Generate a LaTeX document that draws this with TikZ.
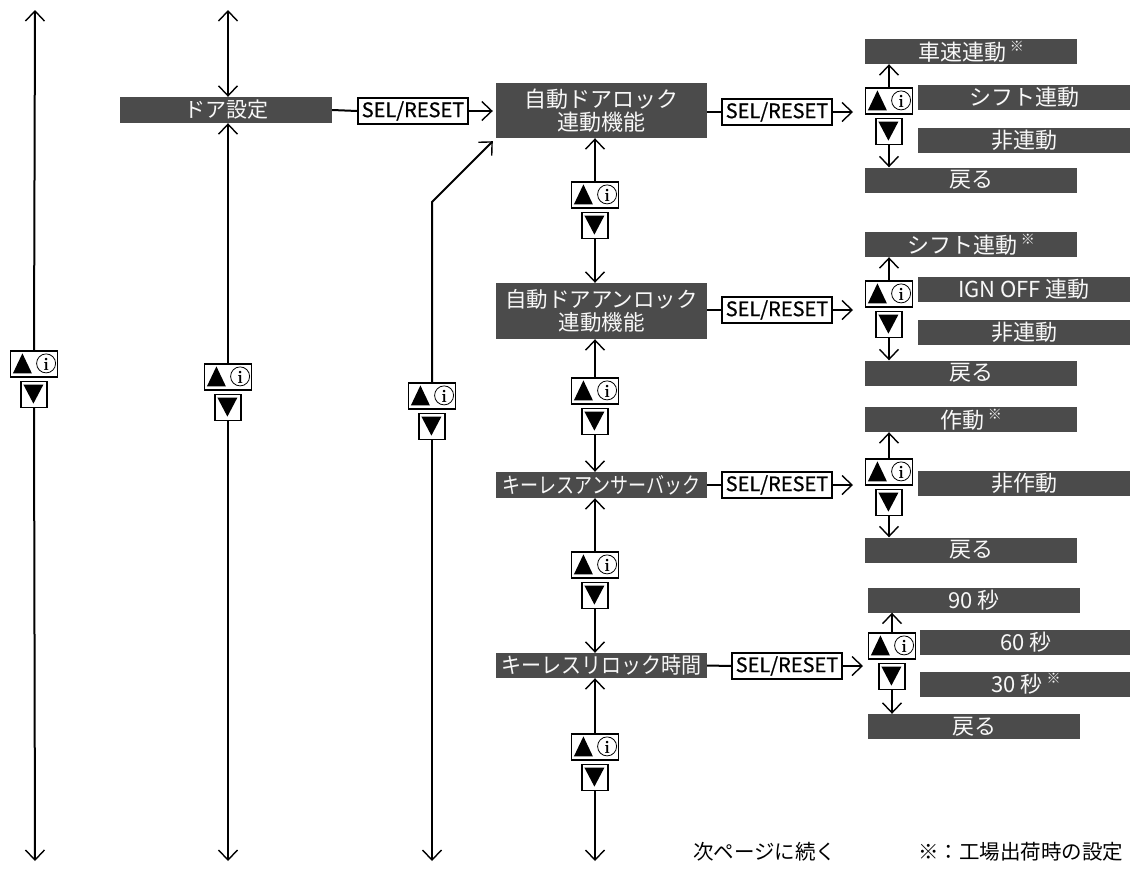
\documentclass[tikz,border=0pt]{standalone}
\usepackage{fontspec}
\usepackage{graphicx}
\newfontfamily\jp{Noto Sans CJK JP}
\newfontfamily\selfont[FakeBold=0.8]{Noto Sans CJK JP}
\usetikzlibrary{arrows.meta,calc}
\definecolor{boxgray}{RGB}{75,75,75}
\definecolor{boxtext}{RGB}{248,248,248}
\newcommand\kome{\,\raisebox{0.4em}{\fontsize{14}{14}\selectfont ※}}
\newcommand\udicon[3]{%
  \node[upbox] (#1u) at (#2,#3) {};
  \node[dnbox,anchor=north] (#1d) at ([yshift=-3pt]#1u.south) {};
  \fill ([shift={(3,23)}]#1u.north west) -- ([shift={(22,23)}]#1u.north west) -- ([shift={(12.5,3)}]#1u.north west) -- cycle;
  \draw[line width=0.8pt] ([shift={(-12,13)}]#1u.north east) circle[radius=9.5pt];
  \node[inner sep=0pt,font=\fontsize{18}{18}\selectfont\bfseries] at ([shift={(-12,13.5)}]#1u.north east) {i};
  \fill ([shift={(3,4)}]#1d.north west) -- ([shift={(23,4)}]#1d.north west) -- ([shift={(13,23)}]#1d.north west) -- cycle;
}
\begin{document}
\begin{tikzpicture}[x=1pt,y=-1pt,
  conn/.style={line width=2pt},
  arr/.style={conn,-{Straight Barb[length=10pt,width=19pt,line width=1.4pt]}},
  darr/.style={conn,{Straight Barb[length=10pt,width=19pt,line width=1.4pt]}-{Straight Barb[length=10pt,width=19pt,line width=1.4pt]}},
  menu/.style={fill=boxgray,text=boxtext,inner sep=0pt,minimum width=212pt,minimum height=25pt,font=\jp\fontsize{22}{23}\selectfont,align=center},
  parent/.style={menu,minimum width=211pt},
  selbox/.style={draw,line width=1.3pt,fill=white,inner sep=0pt,minimum width=110pt,minimum height=26pt,font=\selfont\fontsize{20}{20}\selectfont},
  upbox/.style={draw,line width=1.2pt,inner sep=0pt,minimum width=47pt,minimum height=26pt},
  dnbox/.style={draw,line width=1.2pt,inner sep=0pt,minimum width=26pt,minimum height=26pt},
  note/.style={inner sep=0pt,anchor=west,font=\jp\fontsize{20.5}{21}\selectfont}]
\useasboundingbox (0,0) rectangle (1130,868);
\clip (0,0) rectangle (1130,868);

% main menu boxes
\node[menu,minimum height=26pt,font=\jp\fontsize{21}{21}\selectfont] (door) at (226,110) {ドア設定};
\node[parent,minimum height=55pt] (lock) at (601.5,110.5) {自動ドアロック\\連動機能};
\node[parent,minimum height=56pt,font=\jp\fontsize{21.5}{23}\selectfont] (unlock) at (601.5,311) {自動ドアアンロック\\連動機能};
\node[parent,minimum height=26pt] (answer) at (601.5,485) {\scalebox{0.82}[1]{キーレスアンサーバック}};
\node[parent,minimum height=25pt] (relock) at (601.5,665.5) {\scalebox{0.91}[1]{キーレスリロック時間}};

% SEL/RESET boxes
\node[selbox] (sel1) at (413,111) {SEL/RESET};
\node[selbox] (sel2) at (777,112) {SEL/RESET};
\node[selbox] (sel3) at (777,310) {SEL/RESET};
\node[selbox] (sel4) at (777,485) {SEL/RESET};
\node[selbox] (sel5) at (787,666) {SEL/RESET};

% option boxes
\node[menu] (r1a) at (971,51.5) {車速連動\kome};
\node[menu] (r1b) at (1024,97.5) {シフト連動};
\node[menu] (r1c) at (1024,140) {非連動};
\node[menu] (r1d) at (971,180) {戻る};

\node[menu] (r2a) at (971,244.5) {シフト連動\kome};
\node[menu] (r2b) at (1024,289.5) {IGN OFF 連動};
\node[menu] (r2c) at (1024,332) {非連動};
\node[menu] (r2d) at (971,373) {戻る};

\node[menu] (r3a) at (971,419.5) {作動\kome};
\node[menu] (r3b) at (1024,483.5) {非作動};
\node[menu] (r3d) at (971,550) {戻る};

\node[menu] (r4a) at (974,600) {90 秒};
\node[menu] (r4b) at (1026,642) {60 秒};
\node[menu] (r4c) at (1026,684) {30 秒\kome};
\node[menu] (r4d) at (974,726.5) {戻る};

% up/down icons
\udicon{c1}{34}{364}
\udicon{c2}{228}{377}
\udicon{c3}{432}{396}
\udicon{m1}{595}{195}
\udicon{m2}{595}{391}
\udicon{m3}{595}{565}
\udicon{m4}{595}{747}
\udicon{s1}{889}{101}
\udicon{s2}{889}{294}
\udicon{s3}{889}{472}
\udicon{s4}{892}{646}

% free ends
\coordinate (c1t) at (35,10);
\coordinate (c1b) at (35,861);
\coordinate (c2t) at (228,10);
\coordinate (c2b) at (228,861);
\coordinate (c3k) at (432,202);
\coordinate (c3b) at (432,861);
\coordinate (m4b) at (595,861);
\coordinate (e1) at (853,112);
\coordinate (e2) at (853,310);
\coordinate (e3) at (853,485);
\coordinate (e4) at (863,666);

% left columns
\draw[arr] (c1u.north) -- (c1t);
\draw[arr] (c1d.south) -- (c1b);
\draw[darr] (c2t) -- (c2t |- door.north);
\draw[arr] (c2u.north) -- (c2u.north |- door.south);
\draw[arr] (c2d.south) -- (c2b);
\draw[arr] (c3u.north) -- (c3k) -- ([shift={(-3,3)}]lock.south west);
\draw[arr] (c3d.south) -- (c3b);

% main column
\draw[arr] (m1u.north) -- (m1u.north |- lock.south);
\draw[arr] (m1d.south) -- (m1d.south |- unlock.north);
\draw[arr] (m2u.north) -- (m2u.north |- unlock.south);
\draw[arr] (m2d.south) -- (m2d.south |- answer.north);
\draw[arr] (m3u.north) -- (m3u.north |- answer.south);
\draw[arr] (m3d.south) -- (m3d.south |- relock.north);
\draw[arr] (m4u.north) -- (m4u.north |- relock.south);
\draw[arr] (m4d.south) -- (m4b);

% SEL/RESET links
\draw[conn] (door.east) -- (sel1.west);
\draw[arr] (sel1.east) -- ([xshift=-3pt]lock.west |- sel1.east);
\draw[conn] (lock.east |- sel2.west) -- (sel2.west);
\draw[arr] (sel2.east) -- (e1);
\draw[conn] (unlock.east |- sel3.west) -- (sel3.west);
\draw[arr] (sel3.east) -- (e2);
\draw[conn] (answer.east) -- (sel4.west);
\draw[arr] (sel4.east) -- (e3);
\draw[conn] (relock.east) -- (sel5.west);
\draw[arr] (sel5.east) -- (e4);

% option columns
\draw[arr] (s1u.north) -- (s1u.north |- r1a.south);
\draw[arr] (s1d.south) -- (s1d.south |- r1d.north);
\draw[arr] (s2u.north) -- (s2u.north |- r2a.south);
\draw[arr] (s2d.south) -- (s2d.south |- r2d.north);
\draw[arr] (s3u.north) -- (s3u.north |- r3a.south);
\draw[arr] (s3d.south) -- (s3d.south |- r3d.north);
\draw[arr] (s4u.north) -- (s4u.north |- r4a.south);
\draw[arr] (s4d.south) -- (s4d.south |- r4d.north);

% footer
\node[note] (cont) at (693,852) {次ページに続く};
\node[note] (foot) at (918,852) {※：工場出荷時の設定};
\end{tikzpicture}
\end{document}
